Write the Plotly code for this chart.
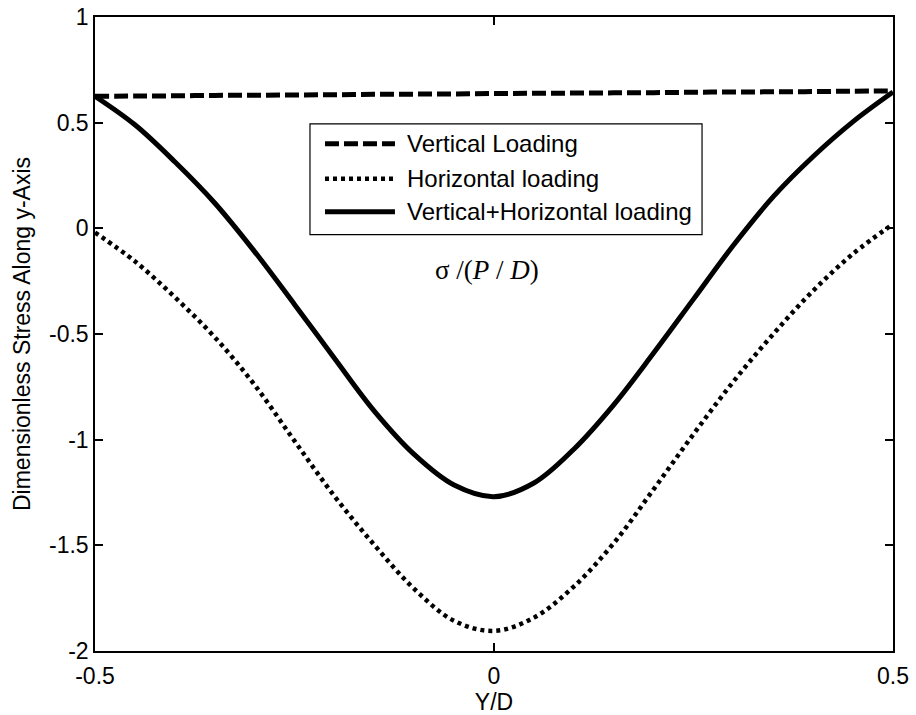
import plotly.graph_objects as go

# values (Y/D on a 0.05 grid)
x_grid = [-0.5, -0.45, -0.4, -0.35, -0.3, -0.25, -0.2, -0.15, -0.1, -0.05, 0.0,
          0.05, 0.1, 0.15, 0.2, 0.25, 0.3, 0.35, 0.4, 0.45, 0.5]

y_vert = [0.625, 0.626, 0.627, 0.629, 0.630, 0.631, 0.632, 0.634, 0.635, 0.636, 0.638,
          0.639, 0.640, 0.641, 0.642, 0.644, 0.645, 0.646, 0.647, 0.649, 0.650]

y_horz = [-0.02, -0.156, -0.326, -0.515, -0.741, -1.006, -1.267, -1.498, -1.706, -1.857, -1.905,
          -1.842, -1.695, -1.490, -1.235, -0.974, -0.725, -0.500, -0.295, -0.120, 0.02]

y_both = [0.625, 0.49, 0.315, 0.12, -0.11, -0.36, -0.615, -0.865, -1.07, -1.215, -1.27,
          -1.205, -1.045, -0.835, -0.59, -0.335, -0.08, 0.15, 0.34, 0.505, 0.645]

names = ["Vertical Loading", "Horizontal loading", "Vertical+Horizontal loading"]
y_ticks = [1, 0.5, 0, -0.5, -1, -1.5, -2]
x_ticks = [-0.5, 0, 0.5]

styles = [dict(color="black", width=5, dash="14px,5px"),
          dict(color="black", width=4.5, dash="4px,4px"),
          dict(color="black", width=5)]

fig = go.Figure()
for name, ys, st in zip(names, [y_vert, y_horz, y_both], styles):
    fig.add_trace(go.Scatter(x=x_grid, y=ys, name=name, mode="lines", line_shape="spline",
                             line=st, showlegend=False))

axis_style = dict(showgrid=False, zeroline=False, showline=True, linecolor="black", linewidth=1.5,
                  mirror="ticks", ticks="inside", ticklen=8, tickwidth=1.5, tickcolor="black",
                  tickfont=dict(size=23, color="black"), automargin=False,
                  ticklabeloverflow="allow")

fig.update_xaxes(range=[-0.5, 0.5], tickvals=x_ticks, ticktext=["-0.5", "0", "0.5"],
                 ticklabelstandoff=4,
                 title=dict(text="Y/D", font=dict(size=23, color="black"), standoff=8), **axis_style)
fig.update_yaxes(range=[-2, 1], tickvals=y_ticks, ticktext=["1", "0.5", "0", "-0.5", "-1", "-1.5", "-2"],
                 title=dict(text="Dimensionless Stress Along y-Axis", font=dict(size=23, color="black"), standoff=12),
                 **axis_style)

# legend box drawn by hand (MATLAB style long line samples)
fig.add_shape(type="rect", xref="paper", yref="paper", x0=0.2694, x1=0.7607, y0=0.6567, y1=0.8315,
              line=dict(color="black", width=1.2), fillcolor="white", layer="above")
rows = [0.8, 0.7449, 0.6929]
for name, st, yr in zip(names, styles, rows):
    fig.add_shape(type="line", xref="paper", yref="paper", x0=0.2882, x1=0.3759, y0=yr, y1=yr,
                  line=st, layer="above")
    fig.add_annotation(x=0.3885, y=yr, xref="paper", yref="paper", showarrow=False,
                       xanchor="left", yanchor="middle", text=name,
                       font=dict(size=24, color="black"))

fig.add_annotation(x=0.491, y=0.6016, xref="paper", yref="paper", showarrow=False,
                   text="σ /(<i>P</i> / <i>D</i>)",
                   font=dict(family="Liberation Serif", size=27, color="black"))

fig.update_layout(
    width=916, height=715,
    margin=dict(l=95, r=23, t=17, b=64),
    plot_bgcolor="white", paper_bgcolor="white",
    font=dict(family="Liberation Sans", color="black"))

# drop the default 8px page margin so the figure fills the window
fig.write_html("out.html", config={"displayModeBar": False},
               post_script="document.body.style.margin='0';")
